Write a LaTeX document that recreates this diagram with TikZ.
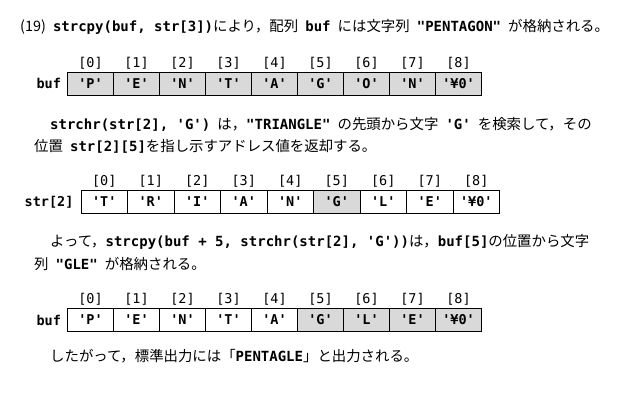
\documentclass[tikz,border=0pt]{standalone}
\usepackage{fontspec}
\setmainfont{Noto Sans CJK JP}[WordSpace=2.2]
\setmonofont{DejaVu Sans Mono}
\usetikzlibrary{positioning}

\newcommand{\cd}[1]{{\fontsize{14}{16}\selectfont\ttfamily\bfseries #1}}
\newcommand{\jsize}{\fontsize{14.4}{16}\selectfont}
\newcommand{\asize}{\fontsize{13.5}{16}\selectfont}

\begin{document}
\begin{tikzpicture}[
    x=1pt, y=-1pt,
    % Styles
    textline/.style={ % One line of text
        anchor=base west,
        inner sep=0pt,
        font=\jsize
    },
    cell/.style={ % Array element
        draw,
        line width=0.8pt,
        minimum height=22.5pt,
        inner sep=0pt,
        font=\asize\ttfamily\bfseries
    },
    hot/.style={ % Copied element
        cell,
        fill=gray!30
    },
    idx/.style={ % Index above a cell
        inner sep=0pt,
        font=\asize\ttfamily
    },
    arrname/.style={ % Array name
        inner sep=0pt,
        font=\asize\ttfamily\bfseries
    }
]
    \useasboundingbox (0,0) rectangle (626,412);

    % Text lines
    \node[textline] (l1) at (20,32) {(19) \cd{strcpy(buf, str[3])}により，配列 \cd{buf} には文字列 \cd{"PENTAGON"} が格納される。};
    \node[textline] (l2) at (50,129) {\cd{strchr(str[2], 'G')} は，\cd{"TRIANGLE"} の先頭から文字 \cd{'G'} を検索して，その};
    \node[textline] (l3) at (34,151) {位置 \cd{str[2][5]}を指し示すアドレス値を返却する。};
    \node[textline] (l4) at (50,246) {よって，\cd{strcpy(buf + 5, strchr(str[2], 'G'))}は，\cd{buf[5]}の位置から文字};
    \node[textline] (l5) at (34,269) {列 \cd{"GLE"} が格納される。};
    \node[textline] (l6) at (50,361) {したがって，標準出力には「\cd{PENTAGLE}」と出力される。};

    % buf after strcpy(buf, str[3])
    \foreach \c [count=\i from 0] in {P,E,N,T,A,G,O,N,¥0} {
        \node[hot, minimum width=46pt] (buf\i) at ({90.5+46*\i},83.75) {'\c'};
        \node[idx, above=2.5pt of buf\i] (bi\i) {[\i]};
    }
    \node[arrname, left=6pt of buf0] (bufname) {buf};

    % str[2]
    \foreach \c [count=\i from 0] in {T,R,I,A,N,G,L,E,¥0} {
        \node[cell, minimum width=46.5pt] (str\i) at ({104.25+46.5*\i},202) {'\c'};
        \node[idx, above=2.5pt of str\i] (si\i) {[\i]};
    }
    \node[hot, minimum width=46.5pt] at (str5) {'G'};
    \node[arrname, left=7pt of str0] (strname) {str[2]};

    % buf after strcpy(buf + 5, ...)
    \foreach \c [count=\i from 0] in {P,E,N,T,A,G,L,E,¥0} {
        \ifnum\i<5
            \node[cell, minimum width=46pt] (res\i) at ({90.5+46*\i},320) {'\c'};
        \else
            \node[hot, minimum width=46pt] (res\i) at ({90.5+46*\i},320) {'\c'};
        \fi
        \node[idx, above=2.5pt of res\i] (ri\i) {[\i]};
    }
    \node[arrname, left=6pt of res0] (resname) {buf};
\end{tikzpicture}
\end{document}
